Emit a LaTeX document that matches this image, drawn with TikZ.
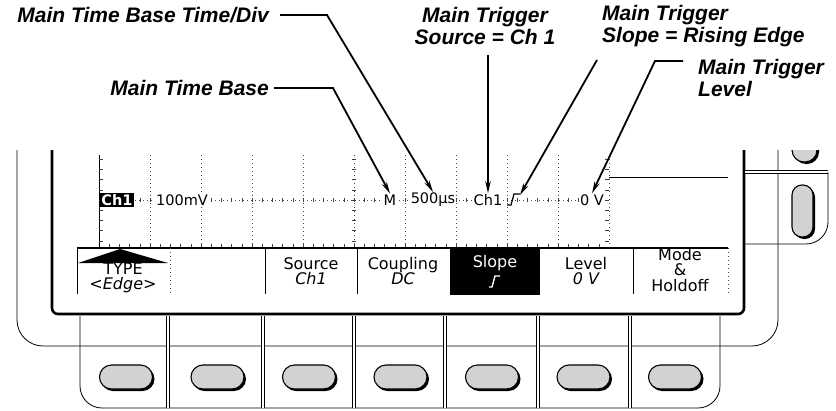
\documentclass[tikz,border=0pt]{standalone}
\usepackage{fontspec}
\usetikzlibrary{positioning,arrows.meta}
\newfontfamily\lblfont{Liberation Sans}
\newfontfamily\menufont{DejaVu Sans}

\begin{document}
\begin{tikzpicture}[x=1pt, y=-1pt, >={Stealth[length=12pt,width=5.5pt]},
    callout/.style={font=\lblfont\fontsize{21}{22}\selectfont\bfseries\itshape, inner sep=0pt},
    leader/.style={->, line width=1.8pt},
    readout/.style={font=\menufont\fontsize{14.5}{14}\selectfont, inner sep=1pt, fill=white},
    menutext/.style={font=\menufont\fontsize{16}{15.5}\selectfont, align=center, inner sep=0pt},
    bezel/.style={line width=0.8pt},
    grat/.style={black!70, dash pattern=on 0.8pt off 3.2pt, line width=0.8pt},
    tick/.style={black!75, line width=0.5pt}]
    \useasboundingbox (0,0) rectangle (836,410);

    % Front panel frames
    \draw[bezel, rounded corners=26pt] (17,150) -- (17,346) -- (778,346) -- (778,150);
    \draw[line width=2.6pt, rounded corners=6pt] (52,150) -- (52,314) -- (744,314) -- (744,150);

    % Right side button strip
    \draw[bezel, double, double distance=1.6pt] (745,172) -- (828,172);
    \draw[bezel, rounded corners=22pt] (828,172) -- (828,244) -- (745,244);
    \begin{scope}
        \clip (746,150) rectangle (836,172);
        \fill[black, rounded corners=12pt] (794,122) rectangle (819,164);
        \draw[line width=1.1pt, fill=gray!35, rounded corners=12pt] (792,120) rectangle (817,162);
    \end{scope}
    \fill[black, rounded corners=10pt] (794,187) rectangle (815,239);
    \draw[line width=1.1pt, fill=gray!35, rounded corners=10pt] (792,185) rectangle (813,237);

    % Bottom button row
    \draw[bezel, rounded corners=22pt] (80,316) -- (80,408) -- (720,408) -- (720,316);
    \foreach \sx in {168,263,354,445,538,630}
        \draw[bezel, double, double distance=1.5pt] (\sx,316) -- (\sx,408);
    \foreach \i in {0,...,6} {
        \pgfmathsetmacro\cx{126+91.5*\i}
        \fill[black, rounded corners=12pt] (\cx-25,367) rectangle (\cx+28.5,391);
        \draw[line width=1.1pt, fill=gray!35, rounded corners=12pt] (\cx-26.5,365) rectangle (\cx+26.5,389);
    }

    % Graticule
    \foreach \gx in {150,201,...,558}
        \draw[grat] (\gx,155) -- (\gx,248);
    \draw[grat] (609,155) -- (609,248);
    \draw[grat] (99,200) -- (609,200);
    \draw[line width=0.8pt] (99,155) -- (99,248);
    \foreach \k in {-4,...,4} {
        \draw[tick] (99,{200+10.2*\k}) -- ++(4,0);
        \draw[tick] (352,{200+10.2*\k}) -- ++(4,0);
        \draw[tick] (609,{200+10.2*\k}) -- ++(-4,0);
    }
    \foreach \k in {1,...,49} {
        \draw[tick] ({99+10.2*\k},198) -- ++(0,4);
        \draw[tick] ({99+10.2*\k},248) -- ++(0,-4);
    }
    \draw[bezel] (609,177) -- (728,177);

    % Readouts
    \node[readout, fill=black, text=white, font=\menufont\fontsize{14.5}{14}\selectfont\bfseries] (rdChA) at (117,200) {Ch1};
    \node[readout] (rd100) at (182,200) {100mV};
    \node[readout] (rdM) at (390,200) {M};
    \node[readout] (rdTime) at (433,200) {500µs};
    \node[readout] (rdSrc) at (488,200) {Ch1};
    \coordinate (rdSlope) at (520,195);
    \draw[line width=1.2pt] (507,205) -- (511,205) -- (514,194) -- (520,194);
    \node[readout] (rdLevel) at (592,200) {0 V};

    % Menu
    \draw[line width=1.5pt] (77,248) -- (728,248);
    \foreach \mx in {77,265,357,633}
        \draw[bezel] (\mx,248) -- (\mx,294);
    \draw[grat] (170,248) -- (170,294);
    \draw[grat] (728,248) -- (728,294);
    \fill[black] (78,263) -- (120,249) -- (168,263) -- cycle;
    \fill[black] (450,248) rectangle (540,295);
    \node[menutext] (mnType) at (123,278) {TYPE\\{\itshape <Edge>}};
    \node[menutext] (mnSource) at (311,271) {Source\\{\itshape Ch1}};
    \node[menutext] (mnCoupling) at (403,271) {Coupling\\{\itshape DC}};
    \node[menutext, text=white] (mnSlope) at (495,263) {Slope};
    \draw[white, line width=1.4pt] (489,287) -- (492,287) -- (495,276) -- (500,276);
    \node[menutext] (mnLevel) at (586,271) {Level\\{\itshape 0 V}};
    \node[menutext] (mnMode) at (680,270) {Mode\\\&\\Holdoff};

    % Callout labels
    \node[callout, anchor=east] (lblTD) at (269,15) {Main Time Base Time/Div};
    \node[callout, anchor=east] (lblMTB) at (269,88) {Main Time Base};
    \node[callout, align=center] (lblSrc) at (485,26) {Main Trigger\\Source = Ch 1};
    \node[callout, align=left, anchor=west] (lblSlp) at (602,26) {Main Trigger\\Slope = Rising Edge};
    \node[callout, align=left, anchor=west] (lblLvl) at (698,78) {Main Trigger\\Level};

    % Leaders
    \coordinate (tdBend) at (327,15);
    \coordinate (mtbBend) at (333,88);
    \coordinate (slpTop) at (597,60);
    \coordinate (lvlStart) at (683,61);
    \coordinate (lvlBend) at (655,61);
    \draw[leader, shorten <=11pt] (lblTD.east) -- (tdBend) -- (rdTime.north);
    \draw[leader, shorten <=5pt] (lblMTB.east) -- (mtbBend) -- (rdM.north);
    \draw[leader, shorten <=10pt] (lblSrc.south -| rdSrc.north) -- (rdSrc.north);
    \draw[leader] (slpTop) -- (rdSlope);
    \draw[leader] (lvlStart) -- (lvlBend) -- (rdLevel.north);
\end{tikzpicture}
\end{document}
